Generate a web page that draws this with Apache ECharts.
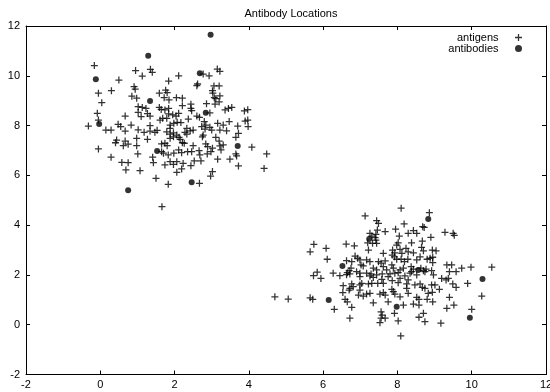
<!DOCTYPE html>
<html>
<head>
<meta charset="utf-8">
<title>Antibody Locations</title>
<script src="https://cdn.jsdelivr.net/npm/echarts@6/dist/echarts.min.js"></script>
<style>
  html, body { margin: 0; padding: 0; background: #fff; }
  #chart { width: 550px; height: 392px; }
</style>
</head>
<body>
<div id="chart"></div>
<script>
// Axis ranges and tick labels
const xTicks = [-2, 0, 2, 4, 6, 8, 10, 12];
const yTicks = [-2, 0, 2, 4, 6, 8, 10, 12];

// Antigen positions, upper-left group
const antigensUpper = [
  [-0.16,10.41],[0.95,10.21],[1.35,10.26],[1.40,10.14],[1.13,9.99],[0.50,9.83],[1.84,9.79],[2.11,10.00],
  [0.30,9.40],[-0.05,9.30],[0.91,9.56],[0.94,9.46],[0.85,9.18],[0.98,9.10],[1.59,9.30],[1.76,9.42],
  [1.80,9.32],[1.72,9.12],[1.85,9.03],[2.05,9.12],[0.04,8.92],[1.02,8.76],[1.13,8.73],[1.23,8.69],
  [1.59,8.73],[1.64,8.65],[1.74,8.63],[1.84,8.69],[1.02,8.53],[1.27,8.48],[1.34,8.38],[1.10,8.36],
  [0.67,8.38],[-0.08,8.49],[-0.05,8.22],[-0.32,7.98],[0.48,8.05],[0.55,7.96],[0.83,8.02],[0.15,7.82],
  [0.29,7.82],[0.67,7.78],[1.02,7.83],[1.18,7.73],[1.34,8.00],[1.47,7.73],[1.53,7.81],[1.61,8.22],
  [1.68,8.29],[1.79,8.29],[1.84,8.47],[1.95,8.43],[2.04,8.38],[2.11,8.49],[1.88,8.02],[1.98,8.09],
  [2.07,8.13],[1.79,7.75],[1.88,7.89],[1.34,7.78],
  [2.77,10.07],[2.93,10.00],[3.15,10.27],[3.22,10.18],[2.62,9.67],[2.60,9.60],[3.06,9.59],[3.20,9.59],
  [3.02,9.40],[3.03,9.30],[3.07,9.12],[3.11,9.08],[3.22,9.19],[2.21,9.10],[2.44,8.86],[2.44,8.69],
  [2.46,8.60],[2.21,8.80],[2.86,8.88],[3.09,8.86],[3.20,8.95],[3.36,8.63],[3.45,8.69],[3.54,8.73],
  [3.88,8.59],[3.97,8.64],[2.37,8.26],[2.95,8.51],[2.60,8.38],[2.67,8.33],[2.80,8.16],[2.84,8.02],
  [2.17,8.12],[2.73,7.96],[2.82,7.86],[2.95,7.93],[3.00,7.82],[3.16,8.09],[3.31,8.02],[3.47,8.16],
  [3.70,7.98],[3.90,8.18],[3.97,8.22],[3.98,7.96],[2.33,7.89],[2.42,7.79],[2.28,7.73],[2.50,7.82],
  [3.22,7.82],[3.40,7.79],[3.72,7.69],
  [1.88,7.66],[1.97,7.71],[0.44,7.42],[0.41,7.31],[0.67,7.38],[0.62,7.19],[0.75,7.25],[0.98,7.19],
  [0.98,7.49],[1.27,7.45],[1.65,7.26],[1.74,7.29],[1.80,7.19],[1.88,7.49],[1.97,7.55],[2.06,7.62],
  [-0.05,7.06],[1.65,6.95],[1.70,6.89],[1.83,6.82],[1.41,6.73],[1.43,6.51],[1.01,6.86],[0.29,6.73],
  [0.58,6.52],[0.75,6.51],[0.69,6.22],[1.07,6.19],[1.88,6.55],[1.97,6.44],[2.06,6.55],[1.74,6.42],
  [1.98,6.89],[2.11,7.02],[2.06,6.12],[1.50,5.88],[1.83,5.64],[1.66,4.74],
  [2.12,7.53],[2.15,7.45],[2.33,7.66],[2.77,7.62],[2.75,7.55],[3.11,7.53],[3.20,7.38],[3.65,7.53],
  [2.21,7.31],[2.26,7.29],[2.50,7.19],[2.84,7.26],[2.89,7.15],[3.02,7.09],[3.22,7.18],[3.31,7.22],
  [3.25,7.02],[4.08,7.13],[2.19,6.91],[2.35,6.95],[2.46,6.95],[2.66,6.99],[2.68,6.82],[2.88,6.86],
  [2.98,6.95],[3.65,6.86],[3.67,6.78],[4.48,6.86],[2.23,6.48],[2.53,6.58],[2.71,6.58],[3.16,6.65],
  [3.49,6.65],[2.44,6.39],[2.19,6.26],[3.72,6.38],[4.41,6.28],[3.02,6.15],[2.97,5.97],[2.67,5.68]
];

// Antigen positions, lower-right group
const antigensLower = [
  [5.75,3.23],[5.65,2.93],[6.08,3.07],[6.62,3.24],[6.11,2.63],[6.63,2.57],[5.84,2.11],[6.27,2.07],
  [6.65,2.09],[6.70,2.17],
  [8.10,4.68],[7.13,4.37],[7.44,4.18],[7.49,4.07],[8.18,4.05],[7.95,3.84],[8.68,3.94],[7.26,3.67],
  [7.31,3.56],[7.42,3.63],[7.46,3.80],[7.40,3.50],[7.42,3.40],[7.67,3.74],[8.05,3.56],[8.29,3.67],
  [8.43,3.78],[8.52,3.67],[7.20,3.29],[7.33,3.27],[7.44,3.27],[6.84,3.17],[7.98,3.20],[8.02,3.29],
  [8.38,3.29],[8.67,3.36],[7.22,3.00],[7.62,2.87],[7.87,3.00],[7.93,2.89],[8.07,3.03],[8.12,2.87],
  [8.23,3.07],[8.29,2.93],[8.43,2.89],[8.70,2.97],[6.86,2.76],[6.93,2.67],[6.99,2.60],[7.17,2.60],
  [7.26,2.53],[6.77,2.53],[7.86,2.80],[7.92,2.73],[7.98,2.63],[8.10,2.63],[8.19,2.53],[8.28,2.63],
  [8.52,2.60],[7.49,2.53],[7.56,2.47],[7.67,2.56],[7.02,2.40],[7.08,2.36],[6.75,2.27],[7.35,2.27],
  [7.44,2.20],[7.62,2.33],[7.71,2.20],[7.85,2.40],[7.89,2.27],[8.07,2.20],[8.16,2.27],[8.37,2.33],
  [8.43,2.23],[8.63,2.27],[8.70,2.17],[6.90,2.13],[6.99,2.07],[6.72,2.04],[7.17,2.07],[7.29,2.04],
  [7.59,2.04],[7.93,2.07],[8.02,2.09],
  [8.86,4.50],[8.72,3.91],[8.90,3.51],[9.28,3.71],[9.50,3.67],[9.53,3.59],[8.65,3.11],[8.94,3.00],
  [9.04,2.97],[8.61,2.73],[8.80,2.63],[8.88,2.67],[8.95,2.71],[8.95,2.49],[9.33,2.40],[9.46,2.40],
  [9.40,2.13],[9.58,2.13],[9.73,2.27],[9.98,2.31],[10.54,2.31],[8.77,2.23],[8.74,2.13],[8.92,2.17],
  [5.74,1.97],[5.94,1.86],[6.45,1.97],[6.63,2.01],[6.54,1.57],[6.53,1.29],[6.70,1.39],[4.70,1.12],
  [5.06,1.03],[5.65,1.08],[5.72,1.02],[6.59,1.02],[6.65,0.92],[6.30,0.62],[6.72,0.26],
  [6.99,1.93],[7.26,1.96],[7.35,1.90],[7.44,2.00],[7.75,1.93],[7.80,2.04],[8.07,1.86],[8.20,1.96],
  [8.34,2.07],[8.38,2.13],[8.52,2.00],[6.77,1.64],[6.81,1.53],[6.99,1.60],[7.04,1.66],[7.22,1.64],
  [7.31,1.66],[7.47,1.66],[7.58,1.82],[7.62,1.66],[7.86,1.77],[8.02,1.69],[8.29,1.80],[8.25,1.64],
  [8.47,1.60],[8.61,1.64],[8.67,1.50],[6.72,1.46],[6.99,1.39],[7.85,1.42],[7.89,1.33],[7.93,1.23],
  [8.25,1.46],[8.29,1.26],[6.95,1.19],[7.08,1.15],[7.17,1.23],[7.26,1.26],[7.53,1.23],[7.62,1.29],
  [7.67,1.19],[8.07,1.12],[8.52,1.10],[8.58,1.02],[7.35,0.88],[7.75,0.92],[8.43,0.83],[8.58,0.79],
  [8.16,0.79],[6.77,0.70],[7.56,0.52],[7.59,0.39],[7.92,0.46],[8.70,0.46],[8.58,0.30],[7.56,0.26],
  [7.67,0.26],[7.53,0.08],[8.02,0.15],[8.09,-0.45],
  [8.97,2.00],[9.19,1.86],[9.31,1.80],[9.37,1.86],[8.74,1.46],[8.92,1.60],[9.01,1.60],[9.13,1.42],
  [9.49,1.64],[9.58,1.50],[9.89,1.66],[8.83,1.26],[8.94,1.30],[8.80,1.02],[8.95,0.92],[9.40,1.10],
  [10.27,1.15],[9.52,0.79],[9.33,0.66],[10.00,0.62],[8.74,0.12],[9.17,0.06]
];

// Antibody positions
const antibodies = [
  [2.97,11.65],[1.29,10.80],[-0.12,9.86],[2.68,10.10],[1.34,8.99],[-0.03,8.06],[2.84,8.52],
  [1.53,6.98],[3.70,7.18],[0.75,5.40],[2.46,5.72],
  [6.52,2.36],[7.24,3.44],[8.56,2.20],[8.83,4.25],[6.15,0.99],[7.98,0.72],[10.29,1.84],[9.95,0.28]
];

const FONT = '"Liberation Sans", Arial, Helvetica, sans-serif';
const FONT_SIZE = 11;
const PLUS = 'path://M4.1,0H5.9V4.1H10V5.9H5.9V10H4.1V5.9H0V4.1H4.1Z';

// One side of the box frame; ticks point into the plot on every side
function frameAxis(position, showLabels, ticks) {
  return {
    type: 'value',
    position: position,
    min: ticks[0],
    max: ticks[ticks.length - 1],
    interval: ticks[1] - ticks[0],
    axisLine: { show: true, onZero: false, lineStyle: { color: '#000', width: 1 } },
    axisTick: { show: true, inside: true, length: 4, lineStyle: { color: '#000', width: 1 } },
    axisLabel: {
      show: showLabels, color: '#000', fontSize: FONT_SIZE, fontFamily: FONT,
      margin: position === 'bottom' ? 5 : 6
    },
    splitLine: { show: false }
  };
}

const chart = echarts.init(document.getElementById('chart'), null, { renderer: 'canvas' });
chart.setOption({
  animation: false,
  backgroundColor: '#fff',
  title: {
    text: 'Antibody Locations',
    left: 286,
    textAlign: 'center',
    top: 3,
    textStyle: { color: '#000', fontSize: FONT_SIZE, fontWeight: 'normal', fontFamily: FONT }
  },
  legend: {
    orient: 'vertical',
    right: 23,
    top: 27,
    align: 'right',
    padding: 5,
    itemWidth: 30,
    itemHeight: 7,
    itemGap: 0,
    symbolKeepAspect: true,
    textStyle: { color: '#000', fontSize: FONT_SIZE, fontFamily: FONT, lineHeight: 11 },
    data: [
      { name: 'antigens', icon: PLUS },
      { name: 'antibodies', icon: 'circle' }
    ]
  },
  grid: { left: 26, right: 4, top: 26, bottom: 17.5, containLabel: false, outerBoundsMode: 'none' },
  xAxis: [frameAxis('bottom', true, xTicks), frameAxis('top', false, xTicks)],
  yAxis: [frameAxis('left', true, yTicks), frameAxis('right', false, yTicks)],
  series: [
    {
      name: 'antigens',
      type: 'scatter',
      symbol: PLUS,
      symbolSize: 7,
      itemStyle: { color: '#000' },
      data: antigensUpper.concat(antigensLower)
    },
    {
      name: 'antibodies',
      type: 'scatter',
      symbol: 'circle',
      symbolSize: 6,
      itemStyle: { color: '#000' },
      data: antibodies
    }
  ]
});
</script>
</body>
</html>
